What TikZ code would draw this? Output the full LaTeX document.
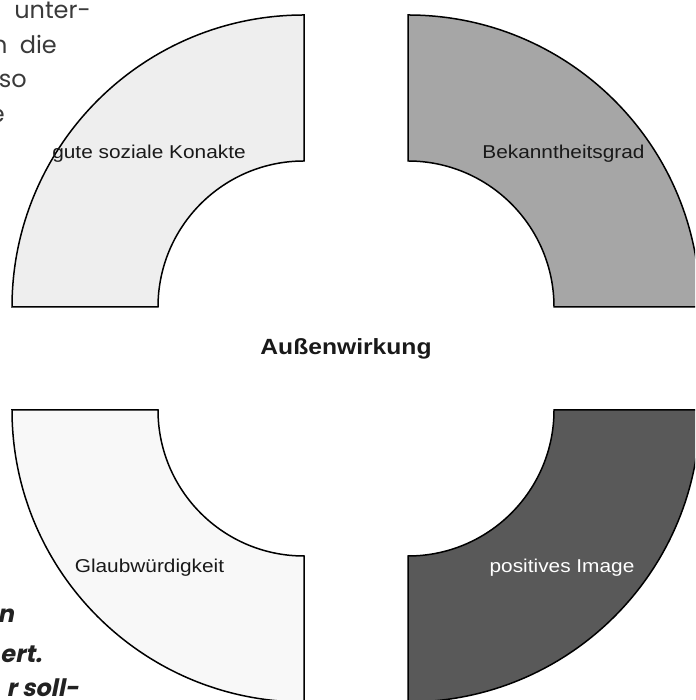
\documentclass[tikz,border=0pt]{standalone}
\usepackage{fontspec}
\usepackage{tikz}
\newfontfamily\labelfont[FakeStretch=1.12]{Liberation Sans}
\newfontfamily\seitenfont{Poppins}
\newfontfamily\seitenfontkursiv[FakeSlant=0.2]{Poppins}
\definecolor{grauA}{HTML}{EEEEEE}
\definecolor{grauB}{HTML}{A6A6A6}
\definecolor{grauC}{HTML}{F8F8F8}
\definecolor{grauD}{HTML}{595959}
\definecolor{seitengrau}{HTML}{3A3A3A}
\definecolor{seitenschwarz}{HTML}{222222}

\begin{document}
\begin{tikzpicture}[x=1pt,y=1pt,
    ring/.style={draw=black,line width=1.5pt},
    beschr/.style={font=\labelfont\fontsize{18.6}{20}\selectfont,inner sep=0pt,anchor=base,text=black!90},
    seite/.style={inner sep=0pt,anchor=base east}]
    \useasboundingbox (0,0) rectangle (695,700);
    \clip (0,0) rectangle (695,700);
    % Text der Seite, vom Bild angeschnitten (Blocksatz)
    \node[seite,font=\seitenfont\fontsize{24}{26}\selectfont,text=seitengrau] (z1) at (91,681) {unter-};
    \node[seite,font=\seitenfont\fontsize{24}{26}\selectfont,text=seitengrau] (z2) at (57,646) {n\hspace{6pt} die};
    \node[seite,font=\seitenfont\fontsize{24}{26}\selectfont,text=seitengrau] (z3) at (27,612) {so};
    \node[seite,font=\seitenfont\fontsize{24}{26}\selectfont,text=seitengrau] (z4) at (5,577) {e};
    \node[seite,font=\seitenfontkursiv\bfseries\fontsize{24}{26}\selectfont,text=seitenschwarz] (z5) at (14,77.5) {n};
    \node[seite,font=\seitenfontkursiv\bfseries\fontsize{24}{26}\selectfont,text=seitenschwarz] (z6) at (42,37.5) {ert.};
    \node[seite,font=\seitenfontkursiv\bfseries\fontsize{24}{26}\selectfont,text=seitenschwarz] (z7) at (79,3) {r soll-};
    % vier Viertelringe, Radien 146 und 292
    \draw[ring,fill=grauA] (304,539)--(304,685) arc (90:180:292)--(158,393) arc (180:90:146)--cycle;
    \draw[ring,fill=grauB] (408,539)--(408,685) arc (90:0:292)--(554,393) arc (0:90:146)--cycle;
    \draw[ring,fill=grauC] (304,144)--(304,-2) arc (-90:-180:292)--(158,290) arc (180:270:146)--cycle;
    \draw[ring,fill=grauD] (408,144)--(408,-2) arc (-90:0:292)--(554,290) arc (0:-90:146)--cycle;
    \node[beschr] (kontakte) at (149,541.5) {gute soziale Konakte};
    \node[beschr] (bekannt) at (563.5,541.5) {Bekanntheitsgrad};
    \node[beschr] (glaub) at (149.5,127.7) {Glaubwürdigkeit};
    \node[beschr,text=white] (image) at (562,127.7) {positives Image};
    \node[beschr,font=\labelfont\bfseries\fontsize{22}{24}\selectfont] (mitte) at (346,345.7) {Außenwirkung};
\end{tikzpicture}
\end{document}
